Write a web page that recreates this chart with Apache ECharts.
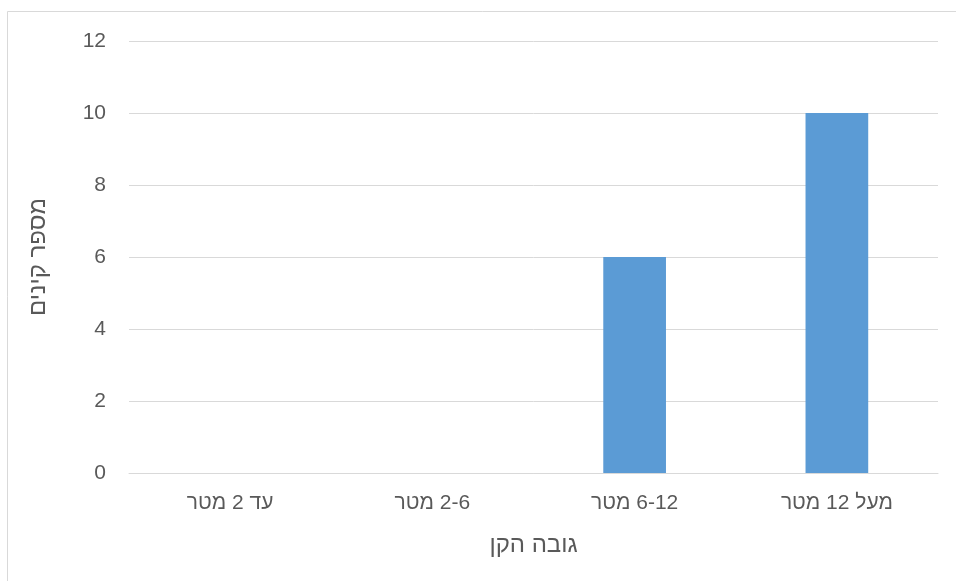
<!DOCTYPE html>
<html>
<head>
<meta charset="utf-8">
<script src="https://cdn.jsdelivr.net/npm/echarts@6/dist/echarts.min.js"></script>
<style>
html,body{margin:0;padding:0;background:#fff;}
#main{width:956px;height:581px;}
</style>
</head>
<body>
<div id="main" dir="rtl"></div>
<script>
// גובה הקן / מספר קינים
var categories = ["עד 2 מטר", "2-6 מטר", "6-12 מטר", "מעל 12 מטר"];
var nests = [0, 0, 6, 10];
var yTicks = [0, 2, 4, 6, 8, 10, 12];

var FONT = '"Liberation Sans", Arial, "DejaVu Sans", sans-serif';
var chart = echarts.init(document.getElementById('main'));

var option = {
    backgroundColor: '#ffffff',
    animation: false,
    graphic: [{
        type: 'rect',
        shape: {x: 7.5, y: 11.5, width: 980, height: 600},
        style: {fill: 'none', stroke: '#d9d9d9', lineWidth: 1},
        silent: true
    }],
    grid: {left: 129, right: 18, top: 41, bottom: 108},
    xAxis: {
        type: 'category',
        data: categories,
        name: 'גובה הקן',
        nameLocation: 'middle',
        nameGap: 60,
        nameTextStyle: {color: '#595959', fontSize: 24, fontFamily: FONT},
        axisLine: {lineStyle: {color: '#d9d9d9', width: 1}},
        axisTick: {show: false},
        axisLabel: {color: '#595959', fontSize: 21, fontFamily: FONT, margin: 20}
    },
    yAxis: {
        type: 'value',
        min: yTicks[0],
        max: yTicks[yTicks.length - 1],
        interval: 2,
        name: 'מספר קינים',
        nameLocation: 'middle',
        nameGap: 79,
        nameTextStyle: {color: '#595959', fontSize: 24, fontFamily: FONT},
        axisLine: {show: false},
        axisTick: {show: false},
        axisLabel: {color: '#595959', fontSize: 21, fontFamily: FONT, margin: 23},
        splitLine: {lineStyle: {color: '#d9d9d9', width: 1}}
    },
    series: [{
        type: 'bar',
        data: nests,
        barWidth: '31%',
        itemStyle: {color: '#5b9bd5'}
    }]
};
chart.setOption(option);
</script>
</body>
</html>
